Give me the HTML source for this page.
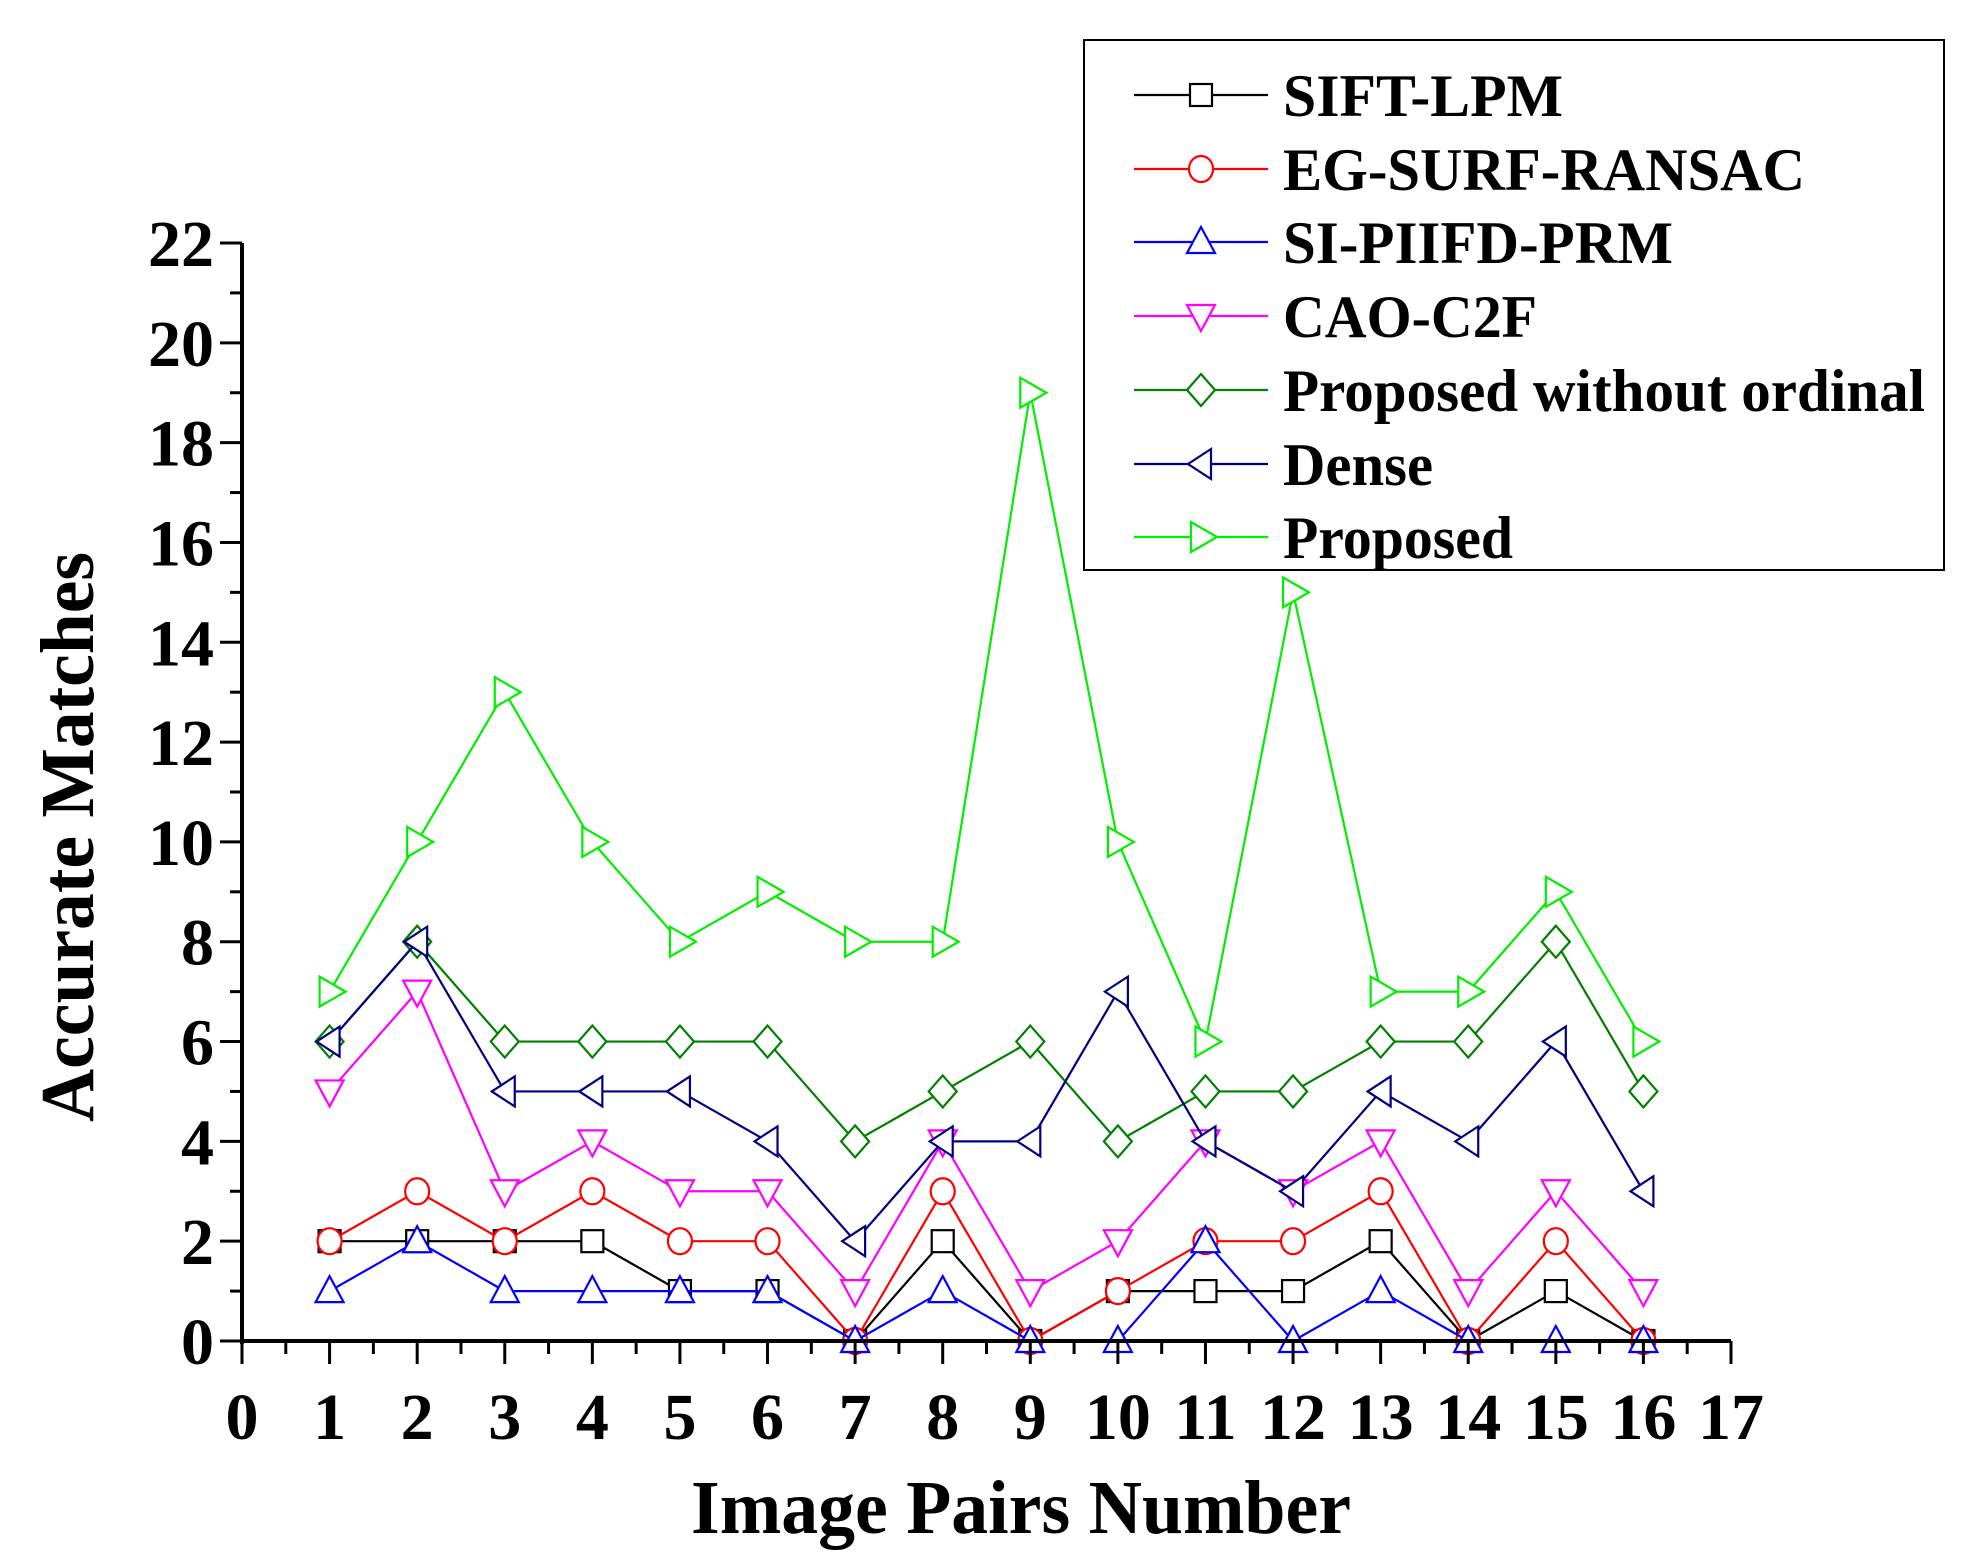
<!DOCTYPE html>
<html><head><meta charset="utf-8"><style>
html,body{margin:0;padding:0;background:#fff;}
svg{display:block;font-family:"Liberation Serif",serif;font-weight:bold;}
</style></head><body>
<svg id="chart" width="1979" height="1557" viewBox="0 0 1979 1557" xmlns="http://www.w3.org/2000/svg">
<g id="plot"></g>
<g id="axes"></g>
<g id="legend"></g>
</svg>
<script>
const categories=[1,2,3,4,5,6,7,8,9,10,11,12,13,14,15,16];
const seriesNames=["SIFT-LPM","EG-SURF-RANSAC","SI-PIIFD-PRM","CAO-C2F","Proposed without ordinal","Dense","Proposed"];
const siftLpm=[2,2,2,2,1,1,0,2,0,1,1,1,2,0,1,0];
const egSurf=[2,3,2,3,2,2,0,3,0,1,2,2,3,0,2,0];
const siPiifd=[1,2,1,1,1,1,0,1,0,0,2,0,1,0,0,0];
const caoC2f=[5,7,3,4,3,3,1,4,1,2,4,3,4,1,3,1];
const proposedNoOrd=[6,8,6,6,6,6,4,5,6,4,5,5,6,6,8,5];
const dense=[6,8,5,5,5,4,2,4,4,7,4,3,5,4,6,3];
const proposed=[7,10,13,10,8,9,8,8,19,10,6,15,7,7,9,6];
const xTicks=[0,1,2,3,4,5,6,7,8,9,10,11,12,13,14,15,16,17];
const yTicks=[0,2,4,6,8,10,12,14,16,18,20,22];

const NS="http://www.w3.org/2000/svg";
const X0=242,X1=1731,Y0=1341,Y1=243;
const sx=v=>X0+(v-0)*(X1-X0)/17;
const sy=v=>Y0-(v-0)*(Y0-Y1)/22;
function mk(tag,attrs,parent){const e=document.createElementNS(NS,tag);for(const k in attrs)e.setAttribute(k,attrs[k]);parent.appendChild(e);return e;}
const plot=document.getElementById('plot'),axes=document.getElementById('axes'),legend=document.getElementById('legend');
const data=[siftLpm,egSurf,siPiifd,caoC2f,proposedNoOrd,dense,proposed];
const colors=["#000","#ff0000","#0000ff","#ff00ff","#007f00","#000080","#00ee00"];
const shapes=["square","circle","up","down","diamond","left","right"];
const R=13;
function marker(shape,cx,cy,color,parent){
  let e;
  if(shape==="square")e=mk('rect',{x:cx-R+2,y:cy-R+2,width:2*R-4,height:2*R-4},parent);
  else if(shape==="circle")e=mk('ellipse',{cx:cx,cy:cy,rx:R-1,ry:R},parent);
  else{let p;
    if(shape==="up")p=[[cx,cy-R-2],[cx+R+1,cy+R-2],[cx-R-1,cy+R-2]];
    if(shape==="down")p=[[cx,cy+R+2],[cx+R+1,cy-R+2],[cx-R-1,cy-R+2]];
    if(shape==="diamond")p=[[cx,cy-R-3],[cx+R+1,cy],[cx,cy+R+3],[cx-R-1,cy]];
    if(shape==="left")p=[[cx-R,cy],[cx+R-3,cy-R-2],[cx+R-3,cy+R+2]];
    if(shape==="right")p=[[cx+R+3,cy],[cx-R+3,cy-R-2],[cx-R+3,cy+R+2]];
    e=mk('polygon',{points:p.map(q=>q.join(',')).join(' ')},parent);}
  e.setAttribute('fill','#fff');e.setAttribute('stroke',color);e.setAttribute('stroke-width','2.2');
  return e;
}
data.forEach((vals,i)=>{
  const g=mk('g',{},plot);
  
  
  const pl=mk('polyline',{points:vals.map((v,j)=>sx(categories[j])+','+sy(v)).join(' '),fill:'none',stroke:colors[i],'stroke-width':2.2},g);
  
  
  vals.forEach((v,j)=>{const m=marker(shapes[i],sx(categories[j]),sy(v),colors[i],g);
    
    });
});
let a=mk('line',{x1:X0,y1:Y1,x2:X0,y2:Y0+3,stroke:'#000','stroke-width':4},axes);

a=mk('line',{x1:X0-2,y1:Y0,x2:X1,y2:Y0,stroke:'#000','stroke-width':4},axes);

for(let v=0;v<=22;v++){const y=sy(v);mk('line',{x1:X0-(v%2===0?22:12),y1:y,x2:X0,y2:y,stroke:'#000','stroke-width':3},axes);}
for(let v=0;v<=17;v+=0.5){const x=sx(v);mk('line',{x1:x,y1:Y0,x2:x,y2:Y0+(Number.isInteger(v)?23:13),stroke:'#000','stroke-width':3},axes);}
yTicks.forEach(v=>{const t=mk('text',{x:214,y:sy(v)+23,'text-anchor':'end','font-size':66},axes);t.textContent=v;
  });
xTicks.forEach(v=>{const t=mk('text',{x:sx(v),y:1439,'text-anchor':'middle','font-size':66},axes);t.textContent=v;
  });
let t=mk('text',{x:1021,y:1533,'text-anchor':'middle','font-size':76,textLength:660,lengthAdjust:'spacingAndGlyphs'},axes);
t.textContent='Image Pairs Number';
t=mk('text',{x:0,y:0,'text-anchor':'middle','font-size':76,textLength:570,lengthAdjust:'spacingAndGlyphs',transform:'translate(93,837) rotate(-90)'},axes);
t.textContent='Accurate Matches';
let b=mk('rect',{x:1084,y:40,width:860,height:530,fill:'#fff',stroke:'#000','stroke-width':2},legend);

const ly=[95,169,242,316,390,464,537];
const lw=[280,522,390,254,642,150,230];
seriesNames.forEach((n,i)=>{
  const g=mk('g',{},legend);
  
  
  mk('line',{x1:1134,y1:ly[i],x2:1268,y2:ly[i],stroke:colors[i],'stroke-width':2.2},g);
  marker(shapes[i],1201,ly[i],colors[i],g);
  const tx=mk('text',{x:1283,y:ly[i]+21,'font-size':60,textLength:lw[i],lengthAdjust:'spacingAndGlyphs'},g);
  tx.textContent=n;
});
</script>
</body></html>
